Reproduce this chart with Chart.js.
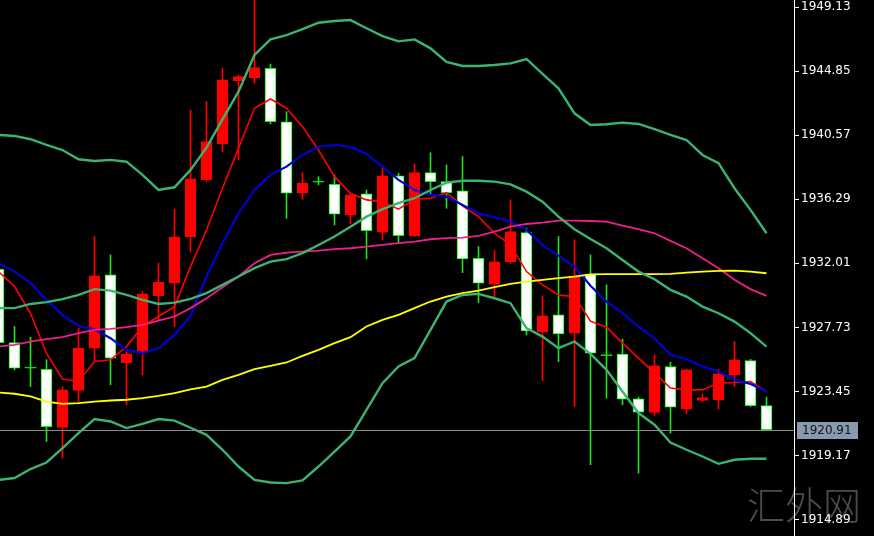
<!DOCTYPE html>
<html>
<head>
<meta charset="utf-8">
<title>XAUUSD H1</title>
<script src="https://cdn.jsdelivr.net/npm/chart.js@4.4.1/dist/chart.umd.min.js"></script>
<style>
  html, body { margin: 0; padding: 0; background: #000; }
  #wrap { width: 874px; height: 536px; }
</style>
</head>
<body>
<div id="wrap"><canvas id="priceChart"></canvas></div>
<script>
// Candle data (one entry per bar, left to right)
const openVals = [1931.62, 1926.72, 1925.05, 1924.94, 1921.05, 1923.52, 1926.35, 1931.24, 1925.38, 1926.12,
  1929.86, 1930.69, 1933.80, 1937.58, 1939.98, 1944.21, 1944.41, 1945.04, 1941.47, 1936.69,
  1937.45, 1937.29, 1935.24, 1936.65, 1934.09, 1937.85, 1933.86, 1938.07, 1937.47, 1936.85,
  1932.35, 1930.62, 1932.13, 1934.06, 1927.45, 1928.57, 1927.35, 1931.29, 1925.87, 1925.95,
  1922.96, 1922.05, 1925.12, 1922.29, 1922.85, 1922.89, 1924.56, 1925.52, 1922.51];
const closeVals = [1926.72, 1925.01, 1925.01, 1921.11, 1923.56, 1926.35, 1931.17, 1925.68, 1925.97, 1929.97,
  1930.75, 1933.76, 1937.65, 1940.14, 1944.26, 1944.48, 1945.08, 1941.47, 1936.69, 1937.36,
  1937.43, 1935.29, 1936.58, 1934.20, 1937.85, 1933.86, 1938.07, 1937.47, 1936.73, 1932.31,
  1930.69, 1932.11, 1934.13, 1927.50, 1928.50, 1927.30, 1931.17, 1926.01, 1925.85, 1922.94,
  1922.07, 1925.16, 1922.41, 1924.90, 1923.05, 1924.63, 1925.57, 1922.51, 1920.91];
const highVals = [1931.80, 1927.79, 1927.08, 1925.57, 1923.78, 1927.68, 1933.80, 1932.57, 1926.10, 1930.12,
  1932.02, 1935.63, 1942.25, 1942.81, 1945.04, 1944.59, 1949.80, 1945.32, 1942.14, 1938.07,
  1937.80, 1937.91, 1936.70, 1936.91, 1938.47, 1938.03, 1938.65, 1939.40, 1938.58, 1939.14,
  1933.13, 1932.86, 1936.25, 1934.36, 1929.84, 1933.80, 1933.58, 1932.57, 1930.57, 1926.95,
  1923.07, 1925.90, 1925.41, 1924.95, 1923.30, 1924.94, 1926.79, 1925.60, 1923.07];
const lowVals = [1926.50, 1924.90, 1923.78, 1920.11, 1919.00, 1922.78, 1925.45, 1923.90, 1922.56, 1924.56,
  1928.24, 1927.79, 1932.77, 1937.47, 1939.47, 1938.92, 1944.04, 1941.32, 1935.02, 1936.29,
  1937.25, 1934.58, 1934.64, 1932.31, 1933.58, 1933.36, 1933.80, 1936.58, 1935.69, 1931.39,
  1929.39, 1929.79, 1932.00, 1927.23, 1924.18, 1925.45, 1922.45, 1918.56, 1923.01, 1922.56,
  1918.00, 1921.85, 1920.67, 1921.96, 1922.75, 1922.27, 1923.78, 1922.45, 1920.83];

// Bollinger bands
const bbUpper = [1940.59, 1940.52, 1940.30, 1939.92, 1939.58, 1938.96, 1938.85, 1938.92, 1938.80, 1937.92,
  1936.91, 1937.09, 1938.25, 1939.74, 1941.63, 1943.48, 1945.93, 1946.97, 1947.26, 1947.66,
  1948.08, 1948.20, 1948.26, 1947.71, 1947.19, 1946.84, 1946.97, 1946.37, 1945.46, 1945.19,
  1945.19, 1945.26, 1945.37, 1945.66, 1944.66, 1943.70, 1942.03, 1941.25, 1941.30, 1941.41,
  1941.32, 1940.97, 1940.59, 1940.25, 1939.25, 1938.70, 1937.03, 1935.58, 1934.02];
const bbMiddle = [1929.02, 1929.02, 1929.30, 1929.42, 1929.62, 1929.90, 1930.29, 1930.19, 1929.90, 1929.57,
  1929.30, 1929.39, 1929.64, 1930.02, 1930.57, 1931.13, 1931.69, 1932.13, 1932.29, 1932.69,
  1933.24, 1933.80, 1934.46, 1935.13, 1935.63, 1936.03, 1936.36, 1936.91, 1937.40, 1937.53,
  1937.53, 1937.47, 1937.29, 1936.80, 1936.13, 1935.13, 1934.29, 1933.64, 1933.02, 1932.24,
  1931.46, 1930.95, 1930.24, 1929.79, 1929.12, 1928.68, 1928.12, 1927.35, 1926.45];
const bbLower = [1917.55, 1917.67, 1918.27, 1918.71, 1919.67, 1920.67, 1921.61, 1921.45, 1921.01, 1921.29,
  1921.61, 1921.51, 1921.03, 1920.56, 1919.56, 1918.44, 1917.55, 1917.37, 1917.33, 1917.51,
  1918.44, 1919.44, 1920.45, 1922.23, 1924.01, 1925.12, 1925.68, 1927.57, 1929.46, 1929.90,
  1929.97, 1929.68, 1929.35, 1927.68, 1927.12, 1926.35, 1926.79, 1925.97, 1924.90, 1923.45,
  1922.01, 1921.23, 1920.04, 1919.56, 1919.11, 1918.62, 1918.89, 1918.96, 1918.96];

// Moving averages
const maRed = [1931.46, 1930.46, 1928.68, 1926.01, 1924.28, 1924.12, 1925.45, 1925.57, 1926.45, 1927.79,
  1928.46, 1929.12, 1931.79, 1934.24, 1937.03, 1939.70, 1942.37, 1942.99, 1942.37, 1941.14,
  1939.58, 1937.80, 1936.69, 1936.25, 1936.13, 1935.63, 1936.29, 1936.36, 1936.73, 1935.85,
  1935.13, 1934.02, 1933.24, 1931.46, 1930.57, 1929.90, 1929.79, 1928.15, 1927.75, 1926.68,
  1925.68, 1924.68, 1923.68, 1923.56, 1923.56, 1924.01, 1924.05, 1924.12, 1923.45];
const maBlue = [1932.02, 1931.46, 1930.69, 1929.57, 1928.57, 1927.83, 1927.61, 1927.01, 1926.23, 1926.01,
  1926.35, 1927.23, 1928.50, 1931.13, 1933.36, 1935.36, 1936.91, 1937.92, 1938.47, 1939.25,
  1939.80, 1939.92, 1939.80, 1939.32, 1938.47, 1937.58, 1936.91, 1936.58, 1936.47, 1935.91,
  1935.36, 1935.09, 1934.80, 1934.24, 1933.24, 1932.51, 1931.79, 1930.51, 1929.46, 1928.68,
  1927.79, 1927.01, 1925.90, 1925.61, 1925.12, 1924.78, 1924.23, 1923.96, 1923.45];
const maPink = [1926.45, 1926.57, 1926.79, 1926.95, 1927.08, 1927.35, 1927.57, 1927.64, 1927.75, 1927.90,
  1928.19, 1928.46, 1929.02, 1929.68, 1930.42, 1931.13, 1932.02, 1932.57, 1932.73, 1932.80,
  1932.86, 1932.96, 1933.02, 1933.13, 1933.24, 1933.36, 1933.46, 1933.62, 1933.69, 1933.73,
  1933.84, 1934.13, 1934.46, 1934.64, 1934.73, 1934.86, 1934.86, 1934.84, 1934.80, 1934.53,
  1934.29, 1934.02, 1933.51, 1933.02, 1932.35, 1931.69, 1930.91, 1930.29, 1929.84];
const maYellow = [1923.38, 1923.30, 1923.12, 1922.78, 1922.63, 1922.67, 1922.78, 1922.85, 1922.90, 1923.01,
  1923.16, 1923.34, 1923.60, 1923.78, 1924.23, 1924.56, 1924.94, 1925.17, 1925.39, 1925.83,
  1926.23, 1926.68, 1927.08, 1927.79, 1928.24, 1928.57, 1929.02, 1929.46, 1929.79, 1930.02,
  1930.19, 1930.42, 1930.64, 1930.79, 1930.91, 1931.02, 1931.13, 1931.27, 1931.29, 1931.29,
  1931.29, 1931.29, 1931.31, 1931.39, 1931.46, 1931.51, 1931.53, 1931.46, 1931.35];

// Price axis labels
const yTicks = [1949.13, 1944.85, 1940.57, 1936.29, 1932.01, 1927.73, 1923.45, 1919.17, 1914.89];
const lastPrice = 1920.91;
const watermark = "汇外网";

// View window
const xMin = 0.09375;
const xMax = xMin + 794 / 16;
const yMin = 1913.80;
const yMax = 1949.60;

const upColor = "#ff0000";
const downColor = "#ffffff";
const edgeGreen = "#00ff00";

function isDoji(i) {
  return Math.abs(closeVals[i] - openVals[i]) < 0.05;
}

function buildBodies() {
  return openVals.map((o, i) => {
    const lo = Math.min(o, closeVals[i]);
    let hi = Math.max(o, closeVals[i]);
    if (hi - lo < 0.07) hi = lo + 0.07; // doji keeps a thin visible line
    return { x: i, y: [lo, hi] };
  });
}

const bodyFill = openVals.map((o, i) => isDoji(i) ? edgeGreen : (closeVals[i] > o ? upColor : downColor));
const bodyEdge = openVals.map((o, i) => closeVals[i] > o ? upColor : edgeGreen);
const wickColor = openVals.map((o, i) => closeVals[i] > o ? upColor : "#20e020");

const toPoints = arr => arr.map((v, i) => ({ x: i, y: v }));

function lineSet(data, color, width) {
  return {
    type: "line",
    data: toPoints(data),
    borderColor: color,
    borderWidth: width,
    pointRadius: 0,
    tension: 0,
    fill: false,
    order: 0
  };
}

// Background + watermark behind everything
const backgroundPlugin = {
  id: "background",
  beforeDraw(chart) {
    const ctx = chart.ctx;
    ctx.save();
    ctx.fillStyle = "#000";
    ctx.fillRect(0, 0, chart.width, chart.height);
    ctx.font = '300 38px "Noto Sans CJK SC"';
    ctx.fillStyle = "rgba(140,140,140,0.55)";
    ctx.textBaseline = "alphabetic";
    ctx.textAlign = "left";
    ctx.fillText(watermark, 747, 519);
    ctx.restore();
  }
};

// Last price line and its axis tag
const priceLinePlugin = {
  id: "priceLine",
  afterDraw(chart) {
    const ctx = chart.ctx;
    const area = chart.chartArea;
    const y = Math.round(chart.scales.y.getPixelForValue(lastPrice)) + 0.5;
    ctx.save();
    ctx.strokeStyle = "#8c8c8c";
    ctx.lineWidth = 1;
    ctx.beginPath();
    ctx.moveTo(area.left, y);
    ctx.lineTo(area.right, y);
    ctx.stroke();
    ctx.fillStyle = "#8a9aae";
    ctx.fillRect(797, y - 8.5, 61, 17);
    ctx.fillStyle = "#10131c";
    ctx.font = '12px "DejaVu Sans"';
    ctx.textBaseline = "middle";
    ctx.textAlign = "left";
    ctx.fillText(lastPrice.toFixed(2), 802, y + 0.5);
    ctx.restore();
  }
};

new Chart(document.getElementById("priceChart"), {
  type: "bar",
  data: {
    datasets: [
      lineSet(bbUpper, "#3cb371", 2.4),
      lineSet(bbMiddle, "#3cb371", 2.4),
      lineSet(bbLower, "#3cb371", 2.4),
      lineSet(maYellow, "#ffff00", 1.8),
      lineSet(maPink, "#ec1f8f", 1.8),
      lineSet(maBlue, "#0000d0", 2.2),
      lineSet(maRed, "#ff0000", 1.6),
      {
        type: "bar",
        data: buildBodies(),
        backgroundColor: bodyFill,
        borderColor: bodyEdge,
        borderWidth: 1,
        borderSkipped: false,
        barThickness: 11,
        grouped: false,
        order: 1
      },
      {
        type: "bar",
        data: lowVals.map((lo, i) => ({ x: i, y: [lo, highVals[i]] })),
        backgroundColor: wickColor,
        borderWidth: 0,
        barThickness: 1,
        grouped: false,
        order: 2
      }
    ]
  },
  options: {
    responsive: true,
    maintainAspectRatio: false,
    animation: false,
    layout: { padding: 0 },
    plugins: {
      legend: { display: false },
      tooltip: { enabled: false }
    },
    scales: {
      x: { type: "linear", min: xMin, max: xMax, display: false, offset: false },
      y: {
        position: "right",
        min: yMin,
        max: yMax,
        beginAtZero: false,
        afterBuildTicks: s => { s.ticks = yTicks.map(v => ({ value: v })); },
        afterFit: s => { s.width = 80; s.paddingTop = 0; s.paddingBottom = 0; },
        ticks: {
          color: "#ffffff",
          font: { family: "DejaVu Sans", size: 12 },
          padding: 2,
          callback: v => Number(v).toFixed(2)
        },
        grid: { drawOnChartArea: false, drawTicks: true, tickLength: 5, color: "#ffffff" },
        border: { display: true, color: "#ffffff", width: 1 }
      }
    }
  },
  plugins: [backgroundPlugin, priceLinePlugin]
});
</script>
</body>
</html>
